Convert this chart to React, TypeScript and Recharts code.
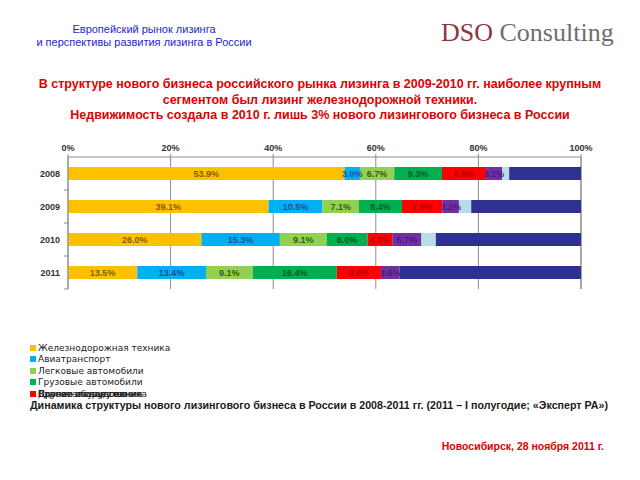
import { BarChart, Bar, XAxis, YAxis, CartesianGrid, LabelList } from "recharts";

const years = ["2008", "2009", "2010", "2011"];
const rail = [53.9, 39.1, 26.0, 13.5];
const avia = [3.0, 10.5, 15.3, 13.4];
const cars = [6.7, 7.1, 9.1, 9.1];
const trucks = [9.3, 8.4, 8.0, 16.4];
const road = [8.6, 7.9, 4.8, 8.6];
const equip = [3.1, 3.2, 5.7, 3.6];
const realty = [1.4, 2.4, 2.8, 0];
const other = [14.0, 21.4, 28.3, 35.4];
const xTicks = [0, 20, 40, 60, 80, 100];

// имя серии, данные, заливка, цвет подписи (null — без подписи)
const series = [
  { key: "rail", name: "Железнодорожная техника", values: rail, fill: "#FFC000", label: "#7F5F00" },
  { key: "avia", name: "Авиатранспорт", values: avia, fill: "#00B0F0", label: "#1F4E9A" },
  { key: "cars", name: "Легковые автомобили", values: cars, fill: "#92D050", label: "#3A5A1A" },
  { key: "trucks", name: "Грузовые автомобили", values: trucks, fill: "#00B050", label: "#0B5A2A" },
  { key: "road", name: "Строительная техника", values: road, fill: "#FF0000", label: "#B00000" },
  { key: "equip", name: "Прочее оборудование", values: equip, fill: "#7030A0", label: "#4A1C80" },
  { key: "realty", name: "Здания и сооружения", values: realty, fill: "#B7DEE8", label: null },
  { key: "other", name: "Другое имущество", values: other, fill: "#2E3192", label: null },
];

const data = years.map((y, i) => {
  const row: Record<string, string | number> = { year: y };
  series.forEach((s) => (row[s.key] = s.values[i]));
  return row;
});

const font = "'Liberation Sans', Arial, sans-serif";

function YTick(props: any) {
  const { x, y, payload } = props;
  const half = payload.offset ?? 16.4;
  return (
    <g>
      <text x={x} y={y} dy={3} textAnchor="end" fontSize={9} fontWeight="bold" fill="#333" fontFamily={font}>
        {payload.value}
      </text>
      <line x1={x + 4} x2={x + 8} y1={y + half} y2={y + half} stroke="#888" />
    </g>
  );
}

export default function App() {
  return (
    <div style={{ position: "absolute", left: 0, top: 0, width: 640, height: 480, background: "#fff", fontFamily: font }}>
      <div style={{ position: "absolute", left: 0, width: 288, top: 23, textAlign: "center", color: "#1E1ED2", fontSize: 11, lineHeight: "13px" }}>
        Европейский рынок лизинга
        <br />и перспективы развития лизинга в России
      </div>
      <div style={{ position: "absolute", left: 441, top: 18, fontFamily: "'Liberation Serif', 'DejaVu Serif', serif", fontSize: 26, whiteSpace: "nowrap" }}>
        <span style={{ color: "#8E3446" }}>DSO</span> <span style={{ color: "#6E6E6E" }}>Consulting</span>
      </div>
      <div style={{ position: "absolute", left: 0, width: 640, top: 77, textAlign: "center", color: "#E00000", fontSize: 12.5, fontWeight: "bold", lineHeight: "15.5px" }}>
        В структуре нового бизнеса российского рынка лизинга в 2009-2010 гг. наиболее крупным
        <br />
        сегментом был лизинг железнодорожной техники.
        <br />
        Недвижимость создала в 2010 г. лишь 3% нового лизингового бизнеса в России
      </div>

      <div style={{ position: "absolute", left: 0, top: 0 }}>
        <BarChart width={640} height={300} data={data} layout="vertical" barSize={13} margin={{ top: 137, left: 38, right: 59, bottom: 11 }}>
          <CartesianGrid horizontal={false} stroke="#8c8c8c" />
          <XAxis
            type="number"
            orientation="top"
            domain={[0, 100]}
            ticks={xTicks}
            height={20}
            tickFormatter={(v) => v + "%"}
            tick={{ fontSize: 9, fontWeight: "bold", fill: "#333", fontFamily: font }}
            axisLine={{ stroke: "#8c8c8c" }}
            tickLine={{ stroke: "#8c8c8c" }}
            tickSize={3}
            tickMargin={3}
          />
          <YAxis
            type="category"
            dataKey="year"
            width={30}
            tick={<YTick />}
            tickLine={false}
            tickSize={4}
            tickMargin={4}
            axisLine={{ stroke: "#8c8c8c" }}
          />
          {series.map((s) => (
            <Bar key={s.key} dataKey={s.key} name={s.name} stackId="a" fill={s.fill} isAnimationActive={false}>
              {s.label && (
                <LabelList
                  dataKey={s.key}
                  position="center"
                  formatter={(v: any) => (v ? Number(v).toFixed(1) + "%" : "")}
                  fill={s.label}
                  fontSize={9}
                  fontWeight="bold"
                  fontFamily={font}
                />
              )}
            </Bar>
          ))}
        </BarChart>
      </div>

      <div style={{ position: "absolute", left: 30, top: 342, fontFamily: "'DejaVu Sans', sans-serif", fontSize: 9, color: "#222" }}>
        {series.slice(0, 4).map((s) => (
          <div key={s.key} style={{ height: 11.5, display: "flex", alignItems: "center", whiteSpace: "nowrap" }}>
            <span style={{ width: 6, height: 6, background: s.fill, marginRight: 2, display: "inline-block" }} />
            {s.name}
          </div>
        ))}
        {/* в оригинале последние подписи легенды наложены друг на друга */}
        <div style={{ position: "relative", height: 11.5 }}>
          {series.slice(4).reverse().map((s) => (
            <div key={s.key} style={{ position: "absolute", left: 0, top: 0, height: 11.5, display: "flex", alignItems: "center", whiteSpace: "nowrap" }}>
              <span style={{ width: 6, height: 6, background: s.fill, marginRight: 2, display: "inline-block" }} />
              {s.name}
            </div>
          ))}
        </div>
      </div>

      <div style={{ position: "absolute", left: 30, top: 399, fontSize: 10.7, fontWeight: "bold", color: "#1a1a1a", whiteSpace: "nowrap" }}>
        Динамика структуры нового лизингового бизнеса в России в 2008-2011 гг. (2011 – I полугодие; «Эксперт РА»)
      </div>
      <div style={{ position: "absolute", right: 36, top: 440, fontSize: 10.5, fontWeight: "bold", color: "#E00000", whiteSpace: "nowrap" }}>
        Новосибирск, 28 ноября 2011 г.
      </div>
    </div>
  );
}
